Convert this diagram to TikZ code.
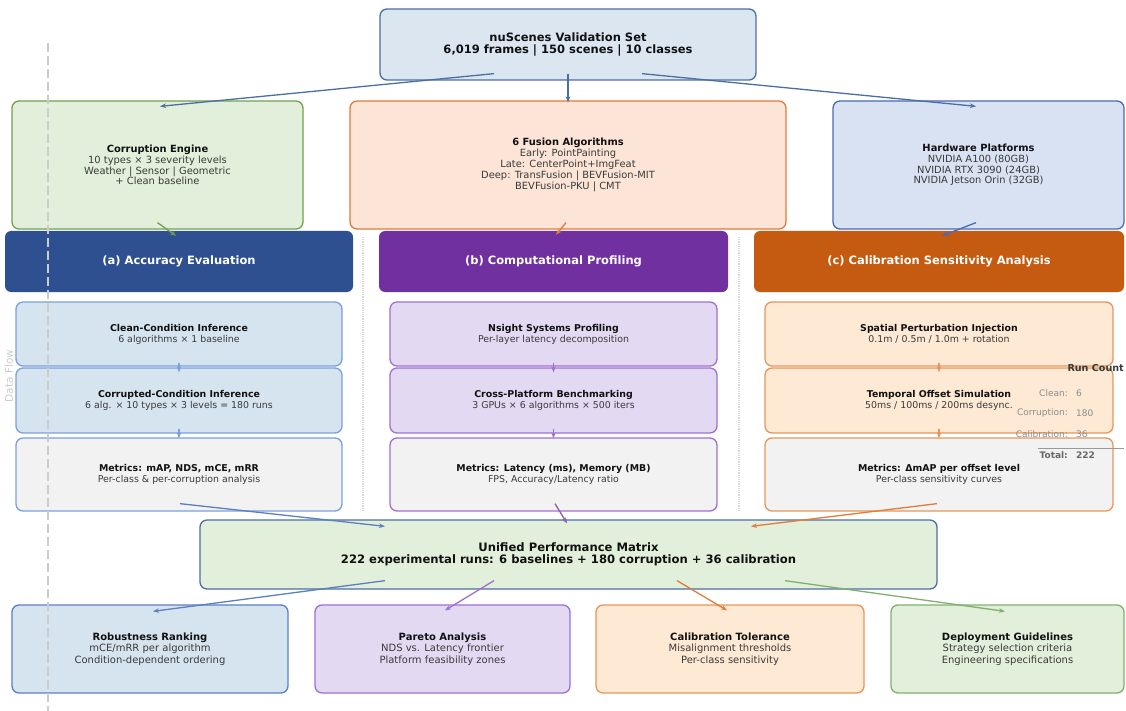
\documentclass[tikz,border=0pt]{standalone}
\usepackage{fontspec}
\setmainfont{DejaVu Sans}
\usetikzlibrary{arrows.meta,calc}
\definecolor{topfill}{HTML}{DCE6F1}
\definecolor{topdraw}{HTML}{4A6FA5}
\definecolor{grfill}{HTML}{E2EFDA}
\definecolor{grdraw}{HTML}{70A050}
\definecolor{orfill}{HTML}{FCE4D6}
\definecolor{ordraw}{HTML}{E07B39}
\definecolor{hwfill}{HTML}{D9E2F3}
\definecolor{hwdraw}{HTML}{4A6AB0}
\definecolor{hdA}{HTML}{2E5090}
\definecolor{hdB}{HTML}{7030A0}
\definecolor{hdC}{HTML}{C55A11}
\definecolor{afill}{HTML}{D6E4F0}
\definecolor{adraw}{HTML}{7AA0DC}
\definecolor{bfill}{HTML}{E4D9F2}
\definecolor{bdraw}{HTML}{A070D0}
\definecolor{cfill}{HTML}{FDE9D4}
\definecolor{cdraw}{HTML}{E6965A}
\definecolor{mfill}{HTML}{F2F2F2}
\definecolor{robdraw}{HTML}{5B7FBF}
\definecolor{depdraw}{HTML}{80B070}
\definecolor{txt}{HTML}{111111}
\definecolor{subtxt}{HTML}{3A3A3A}
\newcommand\ttl[1]{\textcolor{txt}{\bfseries #1}}
\begin{document}
\begin{tikzpicture}[x=1pt,y=-1pt,
  box/.style={draw, rounded corners=7pt, line width=1.3pt, align=center, inner sep=0pt, text=subtxt},
  hdr/.style={draw=none, rounded corners=6pt, align=center, inner sep=0pt, text=white, font=\fontsize{11.5}{13}\selectfont\bfseries},
  bigf/.style={font=\fontsize{9.9}{10.8}\selectfont},
  botf/.style={font=\fontsize{10}{11.5}\selectfont},
  colf/.style={font=\fontsize{9.4}{11}\selectfont},
  arr/.style={-{Stealth[length=6pt,width=4.5pt]}, line width=1.3pt},
]
\useasboundingbox (0,0) rectangle (1126,711);

% top
\node[box, fill=topfill, draw=topdraw, minimum width=376pt, minimum height=71pt, text=txt,
  font=\fontsize{11.5}{12.5}\selectfont\bfseries] (top) at (568,44.5)
  {nuScenes Validation Set\\6,019 frames | 150 scenes | 10 classes};

% second row
\node[box, fill=grfill, draw=grdraw, minimum width=291pt, minimum height=128pt, bigf] (corr) at (157.5,165)
  {\ttl{Corruption Engine}\\10 types × 3 severity levels\\Weather | Sensor | Geometric\\+ Clean baseline};
\node[box, fill=orfill, draw=ordraw, minimum width=436pt, minimum height=128pt, bigf] (fus) at (568,165)
  {\ttl{6 Fusion Algorithms}\\Early: PointPainting\\Late: CenterPoint+ImgFeat\\Deep: TransFusion | BEVFusion-MIT\\BEVFusion-PKU | CMT};
\node[box, fill=hwfill, draw=hwdraw, minimum width=291pt, minimum height=128pt, bigf] (hw) at (978.5,165)
  {\ttl{Hardware Platforms}\\NVIDIA A100 (80GB)\\NVIDIA RTX 3090 (24GB)\\NVIDIA Jetson Orin (32GB)};

% headers
\node[hdr, fill=hdA, minimum width=348pt, minimum height=61pt] (ha) at (179,261.5) {(a) Accuracy Evaluation};
\node[hdr, fill=hdB, minimum width=349pt, minimum height=61pt] (hb) at (553.5,261.5) {(b) Computational Profiling};
\node[hdr, fill=hdC, minimum width=370pt, minimum height=61pt] (hc) at (939,261.5) {(c) Calibration Sensitivity Analysis};

% column a
\node[box, fill=afill, draw=adraw, minimum width=326pt, minimum height=64pt, colf] (a1) at (179,334)
  {\ttl{Clean-Condition Inference}\\6 algorithms × 1 baseline};
\node[box, fill=afill, draw=adraw, minimum width=326pt, minimum height=65pt, colf] (a2) at (179,400.5)
  {\ttl{Corrupted-Condition Inference}\\6 alg. × 10 types × 3 levels = 180 runs};
\node[box, fill=mfill, draw=adraw, minimum width=326pt, minimum height=73pt, colf] (a3) at (179,474.5)
  {\ttl{Metrics: mAP, NDS, mCE, mRR}\\Per-class \& per-corruption analysis};

% column b
\node[box, fill=bfill, draw=bdraw, minimum width=327pt, minimum height=64pt, colf] (b1) at (553.5,334)
  {\ttl{Nsight Systems Profiling}\\Per-layer latency decomposition};
\node[box, fill=bfill, draw=bdraw, minimum width=327pt, minimum height=65pt, colf] (b2) at (553.5,400.5)
  {\ttl{Cross-Platform Benchmarking}\\3 GPUs × 6 algorithms × 500 iters};
\node[box, fill=mfill, draw=bdraw, minimum width=327pt, minimum height=73pt, colf] (b3) at (553.5,474.5)
  {\ttl{Metrics: Latency (ms), Memory (MB)}\\FPS, Accuracy/Latency ratio};

% column c
\node[box, fill=cfill, draw=cdraw, minimum width=348pt, minimum height=64pt, colf] (c1) at (939,334)
  {\ttl{Spatial Perturbation Injection}\\0.1m / 0.5m / 1.0m + rotation};
\node[box, fill=cfill, draw=cdraw, minimum width=348pt, minimum height=65pt, colf] (c2) at (939,400.5)
  {\ttl{Temporal Offset Simulation}\\50ms / 100ms / 200ms desync.};
\node[box, fill=mfill, draw=cdraw, minimum width=348pt, minimum height=73pt, colf] (c3) at (939,474.5)
  {\ttl{Metrics: ΔmAP per offset level}\\Per-class sensitivity curves};

% separators
\coordinate (s1a) at (363,237); \coordinate (s1b) at (363,510);
\coordinate (s2a) at (739,237); \coordinate (s2b) at (739,510);
\draw[densely dotted, black!15, line width=1.2pt] (s1a) -- (s1b);
\draw[densely dotted, black!15, line width=1.2pt] (s2a) -- (s2b);

% unified
\node[box, fill=grfill, draw=topdraw, minimum width=737pt, minimum height=69pt, text=txt,
  font=\fontsize{11.6}{12.5}\selectfont\bfseries] (uni) at (568.5,554.5)
  {Unified Performance Matrix\\222 experimental runs: 6 baselines + 180 corruption + 36 calibration};

% bottom
\node[box, fill=afill, draw=robdraw, minimum width=276pt, minimum height=88pt, botf] (rob) at (150,649)
  {\ttl{Robustness Ranking}\\mCE/mRR per algorithm\\Condition-dependent ordering};
\node[box, fill=bfill, draw=bdraw, minimum width=255pt, minimum height=88pt, botf] (par) at (442.5,649)
  {\ttl{Pareto Analysis}\\NDS vs. Latency frontier\\Platform feasibility zones};
\node[box, fill=cfill, draw=cdraw, minimum width=268pt, minimum height=88pt, botf] (cal) at (730,649)
  {\ttl{Calibration Tolerance}\\Misalignment thresholds\\Per-class sensitivity};
\node[box, fill=grfill, draw=depdraw, minimum width=233pt, minimum height=88pt, botf] (dep) at (1007.5,649)
  {\ttl{Deployment Guidelines}\\Strategy selection criteria\\Engineering specifications};

% arrows
\draw[arr, topdraw] ([xshift=-74pt,yshift=7pt]top.south) -- ([xshift=2.5pt,yshift=-6pt]corr.north);
\draw[arr, topdraw] ([yshift=7pt]top.south) -- ([yshift=-2pt]fus.north);
\draw[arr, topdraw] ([xshift=74pt,yshift=7pt]top.south) -- ([xshift=-2.5pt,yshift=-6pt]hw.north);

\draw[arr, grdraw] ([yshift=7pt]corr.south) -- ([xshift=-3pt,yshift=-5pt]ha.north);
\draw[arr, ordraw] ([xshift=-2pt,yshift=7pt]fus.south) -- ([xshift=2.5pt,yshift=-4pt]hb.north);
\draw[arr, hwdraw] ([xshift=-2.5pt,yshift=7pt]hw.south) -- ([xshift=3pt,yshift=-5pt]hc.north);

\draw[arr, adraw] ([yshift=4pt]a1.south) -- ([yshift=-5pt]a2.north);
\draw[arr, adraw] ([yshift=5pt]a2.south) -- ([yshift=-1pt]a3.north);
\draw[arr, bdraw] ([yshift=4pt]b1.south) -- ([yshift=-5pt]b2.north);
\draw[arr, bdraw] ([yshift=5pt]b2.south) -- ([yshift=-1pt]b3.north);
\draw[arr, cdraw] ([yshift=4pt]c1.south) -- ([yshift=-5pt]c2.north);
\draw[arr, cdraw] ([yshift=5pt]c2.south) -- ([yshift=-1pt]c3.north);

\draw[arr, robdraw] ([xshift=1pt,yshift=8pt]a3.south) -- ([xshift=-183.5pt,yshift=-7pt]uni.north);
\draw[arr, hdB!80] ([xshift=1.5pt,yshift=8pt]b3.south) -- ([xshift=-1.5pt,yshift=-4pt]uni.north);
\draw[arr, ordraw] ([xshift=-2pt,yshift=8pt]c3.south) -- ([xshift=182.5pt,yshift=-7pt]uni.north);

\draw[arr, robdraw] ([xshift=-183.5pt,yshift=9pt]uni.south) -- ([xshift=3pt,yshift=-7pt]rob.north);
\draw[arr, bdraw] ([xshift=-74.5pt,yshift=9pt]uni.south) -- ([xshift=2.5pt,yshift=-6pt]par.north);
\draw[arr, ordraw] ([xshift=108.5pt,yshift=9pt]uni.south) -- ([xshift=-3pt,yshift=-6pt]cal.north);
\draw[arr, depdraw] ([xshift=216.5pt,yshift=9pt]uni.south) -- ([xshift=-2.5pt,yshift=-7pt]dep.north);

% run count
\node[anchor=east, inner sep=0pt, text=subtxt, font=\fontsize{9.6}{11}\selectfont\bfseries] (rc) at (1124,368) {Run Count};
\node[anchor=east, inner sep=0pt, text=black!45, font=\fontsize{9}{10}\selectfont] (rl1) at (1068,393) {Clean:};
\node[anchor=west, inner sep=0pt, text=black!45, font=\fontsize{9}{10}\selectfont] (rv1) at (1076,393) {6};
\node[anchor=east, inner sep=0pt, text=black!45, font=\fontsize{9}{10}\selectfont] (rl2) at (1068,413) {Corruption:};
\node[anchor=west, inner sep=0pt, text=black!45, font=\fontsize{9}{10}\selectfont] (rv2) at (1076,413) {180};
\node[anchor=east, inner sep=0pt, text=black!45, font=\fontsize{9}{10}\selectfont] (rl3) at (1068,434) {Calibration:};
\node[anchor=west, inner sep=0pt, text=black!45, font=\fontsize{9}{10}\selectfont] (rv3) at (1076,434) {36};
\coordinate (rla) at (1038,448); \coordinate (rlb) at (1124,448);
\draw[black!40, line width=0.8pt] (rla) -- (rlb);
\node[anchor=east, inner sep=0pt, text=black!60, font=\fontsize{9}{10}\selectfont\bfseries] (rl4) at (1068,455) {Total:};
\node[anchor=west, inner sep=0pt, text=black!60, font=\fontsize{9}{10}\selectfont\bfseries] (rv4) at (1076,455) {222};

% data flow
\coordinate (dfa) at (48,43); \coordinate (dfb) at (48,711);
\draw[black!20, line width=1.2pt, dash pattern=on 9pt off 4pt] (dfa) -- (dfb);
\node[rotate=90, inner sep=0pt, text=black!20, font=\fontsize{10.5}{12}\selectfont] (dfl) at (9,376) {Data Flow};
\end{tikzpicture}
\end{document}
